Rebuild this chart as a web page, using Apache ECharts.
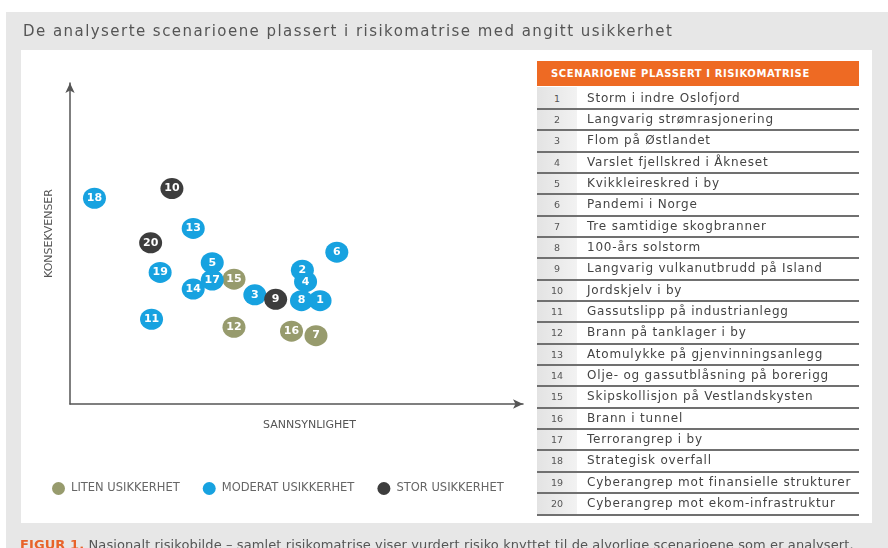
<!DOCTYPE html>
<html>
<head>
<meta charset="utf-8">
<script src="https://cdn.jsdelivr.net/npm/echarts@6/dist/echarts.min.js"></script>
<style>
  html, body { margin: 0; padding: 0; background: #fff; }
  #wrap { position: relative; width: 888px; height: 548px; overflow: hidden; font-family: 'DejaVu Sans', sans-serif; }
  #main { position: absolute; left: 0; top: 0; width: 888px; height: 548px; }
  #title { position: absolute; left: 23px; top: 22px; font-size: 15px; line-height: 18px; color: #555; letter-spacing: 1.45px; white-space: nowrap; }
  #caption { position: absolute; left: 20px; top: 537px; font-size: 13px; line-height: 16px; color: #555; letter-spacing: 0.1px; white-space: nowrap; }
  #caption b { color: #e8632a; }
  #table { position: absolute; left: 537px; top: 61px; width: 322px; height: 460px; }
  #table .head { height: 25px; line-height: 25px; background: #ee6a23; color: #fff; font-weight: bold; font-size: 10px; letter-spacing: 0.6px; padding-left: 14px; }
  #table .numcol { position: absolute; left: 0; top: 26px; width: 40px; height: 428px; background: linear-gradient(to right, #e3e3e3, #f2f2f2); }
  #table .line { position: absolute; left: 0; width: 322px; height: 2px; background: #707070; }
  #table .num { position: absolute; left: 0; width: 40px; text-align: center; font-size: 9.5px; color: #555; line-height: 21px; }
  #table .name { position: absolute; left: 50px; font-size: 12px; line-height: 21px; color: #444; letter-spacing: 0.8px; white-space: nowrap; }
</style>
</head>
<body>
<div id="wrap">
  <div id="main"></div>
  <div id="title">De analyserte scenarioene plassert i risikomatrise med angitt usikkerhet</div>
  <div id="table"><div class="head">SCENARIOENE PLASSERT I RISIKOMATRISE</div><div class="numcol"></div></div>
  <div id="caption"><b>FIGUR 1.</b> Nasjonalt risikobilde – samlet risikomatrise viser vurdert risiko knyttet til de alvorlige scenarioene som er analysert.</div>
</div>
<script>
// scenario names, numbered 1..20
const scenarioNames = [
  'Storm i indre Oslofjord',
  'Langvarig strømrasjonering',
  'Flom på Østlandet',
  'Varslet fjellskred i Åkneset',
  'Kvikkleireskred i by',
  'Pandemi i Norge',
  'Tre samtidige skogbranner',
  '100-års solstorm',
  'Langvarig vulkanutbrudd på Island',
  'Jordskjelv i by',
  'Gassutslipp på industrianlegg',
  'Brann på tanklager i by',
  'Atomulykke på gjenvinningsanlegg',
  'Olje- og gassutblåsning på borerigg',
  'Skipskollisjon på Vestlandskysten',
  'Brann i tunnel',
  'Terrorangrep i by',
  'Strategisk overfall',
  'Cyberangrep mot finansielle strukturer',
  'Cyberangrep mot ekom-infrastruktur'
];
// sannsynlighet (x) and konsekvenser (y), scale 0..10
const sannsynlighet = [5.52, 5.13, 4.08, 5.20, 3.14, 5.89, 5.43, 5.11, 4.54, 2.25,
                       1.80, 3.62, 2.72, 2.72, 3.62, 4.89, 3.14, 0.54, 1.99, 1.78];
const konsekvenser  = [3.22, 4.17, 3.40, 3.81, 4.40, 4.73, 2.13, 3.22, 3.26, 6.71,
                       2.64, 2.39, 5.47, 3.58, 3.89, 2.27, 3.86, 6.41, 4.10, 5.02];
// 0 = liten, 1 = moderat, 2 = stor usikkerhet
const usikkerhet    = [1, 1, 1, 1, 1, 1, 0, 1, 2, 2,
                       1, 0, 1, 1, 0, 0, 1, 1, 1, 2];
const groupNames  = ['LITEN USIKKERHET', 'MODERAT USIKKERHET', 'STOR USIKKERHET'];
const groupColors = ['#979b6d', '#17a2e0', '#3d3d3d'];

const FONT = 'DejaVu Sans';

// table rows
const table = document.getElementById('table');
const rowH = 21.35, rowTop = 26.5;
scenarioNames.forEach((n, i) => {
  const top = Math.round(rowTop + i * rowH);
  const num = document.createElement('div');
  num.className = 'num';
  num.style.top = top + 'px';
  num.textContent = i + 1;
  const name = document.createElement('div');
  name.className = 'name';
  name.style.top = top + 'px';
  name.textContent = n;
  const line = document.createElement('div');
  line.className = 'line';
  line.style.top = (Math.round(rowTop + (i + 1) * rowH) - 1) + 'px';
  table.appendChild(num);
  table.appendChild(name);
  table.appendChild(line);
});

const series = groupNames.map((g, gi) => ({
  name: g,
  type: 'scatter',
  symbol: 'circle',
  symbolSize: [23, 21],
  itemStyle: { color: groupColors[gi], opacity: 1 },
  label: {
    show: true,
    position: 'inside',
    formatter: '{b}',
    color: '#fff',
    fontFamily: FONT,
    fontWeight: 'bold',
    fontSize: 11
  },
  emphasis: { disabled: true },
  data: sannsynlighet
    .map((x, i) => ({ name: String(i + 1), value: [x, konsekvenser[i]], g: usikkerhet[i] }))
    .filter(d => d.g === gi)
}));

const chart = echarts.init(document.getElementById('main'));
chart.setOption({
  animation: false,
  legend: {
    data: groupNames,
    left: 47, top: 477,
    itemWidth: 15, itemHeight: 13, itemGap: 23,
    icon: 'circle',
    textStyle: { fontFamily: FONT, fontSize: 11.5, color: '#666' },
    selectedMode: false
  },
  grid: { left: 70, top: 83, width: 453, height: 321 },
  xAxis: {
    type: 'value', min: 0, max: 10,
    name: 'SANNSYNLIGHET', nameLocation: 'middle', nameGap: 16,
    nameTextStyle: { fontFamily: FONT, fontSize: 11, color: '#555', padding: [0, 0, 0, 26] },
    axisLine: { lineStyle: { color: '#555', width: 1.5 }, symbol: ['none', 'arrow'], symbolSize: [7, 10] },
    axisTick: { show: false }, axisLabel: { show: false }, splitLine: { show: false }
  },
  yAxis: {
    type: 'value', min: 0, max: 10,
    name: 'KONSEKVENSER', nameLocation: 'middle', nameGap: 15,
    nameTextStyle: { fontFamily: FONT, fontSize: 11, color: '#555', padding: [0, 0, 0, 20] },
    axisLine: { lineStyle: { color: '#555', width: 1.5 }, symbol: ['none', 'arrow'], symbolSize: [7, 10] },
    axisTick: { show: false }, axisLabel: { show: false }, splitLine: { show: false }
  },
  graphic: [
    { type: 'rect', z: -10, shape: { x: 6, y: 12, width: 882, height: 536 }, style: { fill: '#e7e7e7' } },
    { type: 'rect', z: -9, shape: { x: 21, y: 50, width: 851, height: 473 }, style: { fill: '#fff' } }
  ],
  series: series
});
</script>
</body>
</html>
